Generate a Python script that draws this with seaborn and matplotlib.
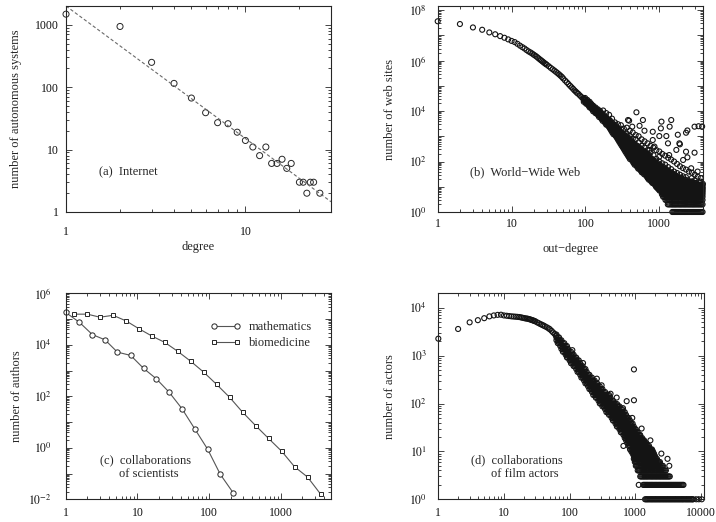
import numpy as np
import pandas as pd
import matplotlib
matplotlib.use("Agg")
import matplotlib.pyplot as plt
import seaborn as sns
from matplotlib.ticker import LogLocator, FuncFormatter, NullFormatter

# ---------------- (a) Internet ----------------
inet_degree = [1, 2, 3, 4, 5, 6, 7, 8, 9, 10, 11, 12, 13, 14, 15, 16, 17, 18,
               20, 21, 22, 23, 24, 26]
inet_count = [1480, 940, 250, 115, 67, 39, 27, 26, 19, 14, 11, 8, 11, 6, 6, 7, 5, 6,
              3, 3, 2, 3, 3, 2]
inet_fit_degree = [1, 30]
inet_fit_count = [2000, 1.46]

# ---------------- (b) World-Wide Web ----------------
# head of the distribution: one well-separated count per out-degree
www_chain_deg = list(range(1, 31)) + [32, 34, 36, 38, 40, 42, 44, 46, 48, 50,
                                      53, 56, 59, 62, 65, 68, 71, 74, 77, 80,
                                      84, 88, 92, 96]
www_chain_sites = [36000000, 28000000, 20500000, 16600000, 13000000, 11000000, 9300000,
                   8000000, 6900000, 6000000, 5400000, 4600000, 3900000, 3400000,
                   3000000, 2600000, 2300000, 2100000, 1900000, 1700000, 1550000,
                   1400000, 1250000, 1130000, 1030000, 940000, 860000, 790000, 730000,
                   680000, 590000, 510000, 450000, 400000, 355000, 316000, 282000,
                   251000, 224000, 195000, 162000, 138000, 117000, 100000, 87000,
                   76000, 66000, 59000, 52500, 48000, 41700, 36300, 32400, 29500]
# tail: degrees sampled along the axis, and for each count level the
# range of out-degrees over which that count occurs
www_grid = [95, 99, 102, 106, 110, 114, 118, 123, 127, 132, 137, 142, 148, 153, 159,
            165, 171, 178, 184, 191, 198, 206, 214, 222, 230, 239, 248, 257, 267, 277,
            287, 298, 309, 321, 333, 345, 358, 372, 386, 400, 415, 431, 447, 464, 481,
            499, 518, 538, 558, 579, 601, 623, 647, 671, 696, 722, 749, 778, 807, 837,
            869, 901, 935, 970, 1007, 1045, 1084, 1125, 1167, 1211, 1256, 1303, 1352,
            1403, 1456, 1500, 1550, 1600, 1650, 1700, 1760, 1820, 1880, 1940, 2000,
            2070, 2140, 2210, 2280, 2360, 2440, 2520, 2600, 2690, 2780, 2870, 2960,
            3060, 3160, 3270, 3380, 3490, 3610, 3730, 3850]
www_level_count = [1, 2, 3, 4, 5, 6, 7, 8, 9, 10, 12, 14, 16, 19, 22, 26, 31, 37, 44,
                   52, 62, 74, 88, 105, 125, 150, 178, 212, 252, 300, 357, 425, 506,
                   602, 716, 852, 1014, 1207, 1436, 1709, 2034, 2420, 2880, 3430, 4080,
                   4860, 5780, 6880, 8190, 9750, 11600, 13800, 16400, 19500, 23200,
                   27600, 32900]
www_level_first = [1500, 1300, 1170, 1090, 1050, 1049, 1003, 960, 923, 891, 839, 797,
                   762, 719, 685, 648, 611, 576, 544, 514, 488, 463, 441, 419, 399,
                   383, 369, 355, 341, 328, 316, 304, 292, 281, 270, 260, 250, 239,
                   228, 218, 208, 199, 188, 179, 169, 160, 151, 143, 135, 127, 120,
                   114, 108, 102, 95, 95, 95]
www_level_last = [3850, 3850, 3850, 3850, 3850, 3850, 3850, 3850, 3850, 3850, 3850,
                  3215, 2793, 2350, 2032, 1806, 1607, 1466, 1345, 1236, 1132, 1037,
                  960, 895, 834, 776, 724, 676, 630, 588, 548, 511, 477, 445, 415,
                  387, 361, 337, 315, 297, 280, 264, 249, 234, 219, 205, 193, 181,
                  170, 160, 149, 139, 130, 122, 114, 107, 100]
# scattered sites above the bulk of the tail
www_loose_deg = [174, 191, 209, 229, 251, 275, 302, 302, 331, 363, 363, 398, 398, 437,
                 437, 479, 479, 525, 525, 575, 575, 631, 631, 692, 692, 759, 759, 832,
                 832, 912, 912, 1000, 1000, 1096, 1096, 1202, 1202, 1318, 1318, 1445,
                 1445, 1585, 1585, 1738, 1738, 1905, 1905, 2089, 2089, 2291, 2291, 2512,
                 2754, 2754, 3020, 3020, 3311, 3631, 3631, 3890,
                 120, 490, 390, 600, 430, 540, 630, 815, 1070, 1450,
                 1050, 1380, 1000, 1245, 815, 2300, 3000, 3400, 3800, 1310,
                 1700, 1870, 2300, 3000, 2100, 2700, 3300, 1000, 740, 213,
                 377, 1780, 2400, 1900, 1360, 2400, 860]
www_loose_sites = [10500, 8300, 7080, 5000, 3550, 3020, 2000, 2750, 2000, 1260, 2190,
                   1050, 1660, 794, 1410, 759, 1120, 575, 1000, 417, 759, 355, 631, 282,
                   525, 224, 417, 178, 355, 126, 282, 100, 251, 85, 200, 75, 170, 60,
                   140, 50, 120, 40, 100, 35, 80, 30, 65, 26, 55, 24, 48, 40, 22, 36,
                   18, 30, 25, 16, 22, 13,
                   19000, 8900, 4150, 4400, 2400, 2600, 1660, 1510, 3800, 4400,
                   2060, 2400, 1020, 1020, 710, 1380, 2400, 2500, 2450, 525,
                   288, 525, 245, 224, 115, 54, 40, 155, 288, 4400,
                   4400, 1150, 1700, 480, 180, 146, 390]

# ---------------- (c) scientific collaborations ----------------
math_collab = [1, 1.55, 2.35, 3.53, 5.25, 8.05, 12.2, 18.3, 27.5, 41.7, 63.3, 95, 143, 217]
math_authors = [1.8e5, 7.5e4, 2.5e4, 1.56e4, 5200, 3870, 1210, 480, 147, 33.3, 5.3,
                0.89, 0.093, 0.0176]
bio_collab = [1.31, 2.0, 3.0, 4.57, 6.93, 10.5, 16.0, 24.2, 36.7, 55.7, 84.5, 127, 193,
              293, 444, 674, 1023, 1550, 2354, 3573]
bio_authors = [1.55e5, 1.55e5, 1.18e5, 1.40e5, 8.5e4, 4.2e4, 2.17e4, 1.23e4, 5500, 2260,
               850, 290, 91, 24, 7.3, 2.3, 0.74, 0.184, 0.073, 0.016]

# ---------------- (d) film actors ----------------
film_chain_deg = list(range(1, 31)) + [32, 34, 36, 38, 40, 42, 45, 48, 50, 53, 56, 59, 62]
film_chain_actors = [2260, 3600, 4950, 5500, 6050, 6600, 6900, 7100, 7150, 6900,
                     6800, 6700, 6600, 6550, 6500, 6450, 6400, 6300, 6200, 6100,
                     6000, 5950, 5900, 5800, 5700, 5600, 5500, 5400, 5300, 5200,
                     4950, 4750, 4550, 4400, 4250, 4100, 3900, 3700, 3550, 3300,
                     3050, 2850, 2600]
film_grid = [60, 63, 66, 69, 72, 75, 79, 83, 87, 91, 95, 100, 105, 110, 115, 120, 126,
             132, 138, 145, 151, 158, 166, 174, 182, 191, 200, 209, 219, 229, 240, 251,
             263, 275, 288, 302, 316, 331, 347, 363, 380, 398, 417, 437, 457, 479, 501,
             525, 550, 575, 603, 631, 661, 692, 724, 759, 794, 832, 871, 912, 950, 985,
             1020, 1055, 1090, 1130, 1160, 1190, 1230, 1275, 1320, 1365, 1410, 1460,
             1510, 1560, 1620, 1680, 1740, 1800, 1860, 1930, 2000, 2070, 2140, 2220,
             2300, 2380, 2460, 2550, 2640, 2730, 2830, 2930, 3030, 3140, 3250, 3360,
             3480, 3600, 3730, 3860, 4000, 4140, 4290, 4440, 4600, 4760, 4930, 5100,
             5280, 5430, 5660, 5860, 6070, 6280, 6500, 6730, 6970, 7210, 7460, 7600]
film_level_count = [1, 2, 3, 4, 5, 6, 7, 8, 9, 10, 11, 13, 15, 17, 19, 22, 25, 29, 33,
                    38, 44, 50, 58, 66, 76, 87, 100, 115, 132, 151, 174, 200, 229, 263,
                    302, 347, 398, 457, 525, 603, 692, 794, 912, 1047, 1202, 1380, 1585,
                    1820, 2090, 2400, 2750]
film_level_first = [1410, 1320, 1190, 1090, 1020, 985, 950, 950, 889, 858, 832, 784,
                    741, 705, 673, 635, 597, 555, 520, 484, 450, 422, 391, 362, 333,
                    308, 286, 264, 245, 229, 214, 200, 186, 174, 162, 151, 141, 132,
                    123, 114, 105, 98, 91, 85, 79, 75, 70, 66, 62, 62, 62]
film_level_last = [7600, 5430, 3400, 2930, 2640, 2400, 2200, 2000, 1950, 1900, 1800,
                   1655, 1505, 1393, 1298, 1199, 1125, 1045, 980, 920, 861, 812, 752,
                   699, 647, 585, 521, 472, 433, 399, 360, 326, 297, 271, 247, 225,
                   206, 190, 176, 163, 150, 138, 128, 117, 107, 99, 91, 84, 77, 70, 63]
film_loose_deg = [8500, 9300, 10300, 955, 955, 740, 521, 530, 307, 660, 1130,
                  110, 160, 260, 420, 650, 900, 1250, 1700, 2500, 3100, 3300]
film_loose_actors = [1, 1, 1, 515, 117, 112, 133, 97, 240, 13, 2,
                     1300, 700, 330, 160, 80, 50, 30, 17, 9, 7, 5]


def level_points(grid, counts, first, last):
    xs, ys = [], []
    for c, lo, hi in zip(counts, first, last):
        sel = [g for g in grid if lo <= g <= hi]
        xs.extend(sel)
        ys.extend([c] * len(sel))
    return xs, ys


wx, wy = level_points(www_grid, www_level_count, www_level_first, www_level_last)
web = pd.DataFrame({"degree": www_chain_deg + wx + www_loose_deg,
                    "sites": www_chain_sites + wy + www_loose_sites})
fx, fy = level_points(film_grid, film_level_count, film_level_first, film_level_last)
film = pd.DataFrame({"degree": film_chain_deg + fx + film_loose_deg,
                     "actors": film_chain_actors + fy + film_loose_actors})
inet = pd.DataFrame({"degree": inet_degree, "count": inet_count})
inet_fit = pd.DataFrame({"degree": inet_fit_degree, "count": inet_fit_count})
math_df = pd.DataFrame({"k": math_collab, "n": math_authors})
bio_df = pd.DataFrame({"k": bio_collab, "n": bio_authors})

sns.set_theme(style="ticks")
plt.rcParams["font.family"] = ["Liberation Serif", "DejaVu Serif"]
plt.rcParams["mathtext.fontset"] = "stix"

INK = "#262626"
DENSE_INK = "#141414"
LABEL_SIZE = 9
TICK_SIZE = 8.5

fig = plt.figure(figsize=(7.16, 5.22), dpi=100)
ax_a = fig.add_axes([0.0922, 0.5939, 0.3701, 0.3946])
ax_b = fig.add_axes([0.6113, 0.5939, 0.3705, 0.3946])
ax_c = fig.add_axes([0.0918, 0.0435, 0.3705, 0.3946])
ax_d = fig.add_axes([0.6122, 0.0435, 0.3705, 0.3946])

plain_fmt = FuncFormatter(lambda v, pos: f"{v:g}")


def power_fmt(step):
    def f(v, pos):
        e = int(round(np.log10(v)))
        return rf"$10^{{{e}}}$" if e % step == 0 else ""
    return FuncFormatter(f)


def style_axes(ax, xlim, ylim, xfmt, yfmt, xpad, ypad):
    ax.set_xscale("log")
    ax.set_yscale("log")
    ax.set_xlim(*xlim)
    ax.set_ylim(*ylim)
    for axis, fmt in ((ax.xaxis, xfmt), (ax.yaxis, yfmt)):
        axis.set_major_locator(LogLocator(base=10, numticks=30))
        axis.set_minor_locator(LogLocator(base=10, subs=np.arange(2, 10), numticks=30))
        axis.set_major_formatter(fmt)
        axis.set_minor_formatter(NullFormatter())
    ax.tick_params(which="both", direction="in", top=True, right=True,
                   width=0.6, color=INK, labelcolor="#111", labelsize=TICK_SIZE)
    ax.tick_params(which="major", length=4)
    ax.tick_params(which="minor", length=2)
    ax.tick_params(axis="x", which="both", pad=xpad)
    ax.tick_params(axis="y", which="both", pad=ypad)
    for s in ax.spines.values():
        s.set_visible(True)
        s.set_linewidth(0.8)
        s.set_color(INK)


def open_circles(ax, data, x, y, size, lw=0.7, color=INK):
    sns.scatterplot(data=data, x=x, y=y, ax=ax, s=size, marker="o",
                    color=color, linewidth=lw, legend=False)
    pts = ax.collections[-1]
    pts.set_facecolor("none")
    pts.set_edgecolor(color)
    pts.set_linewidth(lw)
    pts.set_clip_on(False)


# (a) Internet
ax = ax_a
ax.set_xscale("log"); ax.set_yscale("log")
sns.lineplot(data=inet_fit, x="degree", y="count", ax=ax, color="#6a6a6a",
             linewidth=0.8, linestyle=(0, (3, 2)))
open_circles(ax, inet, "degree", "count", 19)
style_axes(ax, (1, 30), (1, 2000), plain_fmt, plain_fmt, 10, 5.5)
ax.set_xlabel("degree", fontsize=LABEL_SIZE)
ax.set_ylabel("number of autonomous systems", fontsize=LABEL_SIZE)
ax.text(0.125, 0.194, "(a)  Internet", transform=ax.transAxes,
        ha="left", va="center", fontsize=LABEL_SIZE)

# (b) World-Wide Web
ax = ax_b
ax.set_xscale("log"); ax.set_yscale("log")
open_circles(ax, web, "degree", "sites", 13, lw=0.8, color=DENSE_INK)
style_axes(ax, (1, 3900), (1, 1.45e8), plain_fmt, power_fmt(2), 4, 8)
ax.set_xlabel("out\u2212degree", fontsize=LABEL_SIZE)
ax.set_ylabel("number of web sites", fontsize=LABEL_SIZE)
ax.text(0.122, 0.194, "(b)  World\u2212Wide Web", transform=ax.transAxes,
        ha="left", va="center", fontsize=LABEL_SIZE)

# (c) collaborations of scientists
ax = ax_c
ax.set_xscale("log"); ax.set_yscale("log")
sns.lineplot(data=math_df, x="k", y="n", ax=ax, color="#555555", linewidth=0.8,
             marker="o", markersize=3.8, markerfacecolor="white",
             markeredgecolor=INK, markeredgewidth=0.7, label="mathematics",
             clip_on=False)
sns.lineplot(data=bio_df, x="k", y="n", ax=ax, color="#555555", linewidth=0.8,
             marker="s", markersize=3.4, markerfacecolor="white",
             markeredgecolor=INK, markeredgewidth=0.7, label="biomedicine",
             clip_on=False)
style_axes(ax, (1, 5000), (1e-2, 1e6), plain_fmt, power_fmt(2), 5.3, 10)
ax.set_xlabel("")
ax.set_ylabel("number of authors", fontsize=LABEL_SIZE)
ax.legend(loc="upper left", bbox_to_anchor=(0.545, 0.866), frameon=False,
          numpoints=2, handlelength=2.4, handletextpad=0.7, labelspacing=0.35,
          borderpad=0, borderaxespad=0, fontsize=LABEL_SIZE)
ax.text(0.129, 0.191, "(c)  collaborations", transform=ax.transAxes,
        ha="left", va="center", fontsize=LABEL_SIZE)
ax.text(0.202, 0.123, "of scientists", transform=ax.transAxes,
        ha="left", va="center", fontsize=LABEL_SIZE)

# (d) collaborations of film actors
ax = ax_d
ax.set_xscale("log"); ax.set_yscale("log")
open_circles(ax, film, "degree", "actors", 13, lw=0.8, color=DENSE_INK)
style_axes(ax, (1, 1.1e4), (1, 2e4), plain_fmt, power_fmt(1), 5.3, 8)
ax.set_xlabel("")
ax.set_ylabel("number of actors", fontsize=LABEL_SIZE)
ax.text(0.123, 0.191, "(d)  collaborations", transform=ax.transAxes,
        ha="left", va="center", fontsize=LABEL_SIZE)
ax.text(0.2, 0.123, "of film actors", transform=ax.transAxes,
        ha="left", va="center", fontsize=LABEL_SIZE)

ax_a.yaxis.set_label_coords(-0.165, 0.5)
ax_c.yaxis.set_label_coords(-0.162, 0.5)
ax_b.yaxis.set_label_coords(-0.159, 0.5)
ax_d.yaxis.set_label_coords(-0.161, 0.5)
ax_a.xaxis.set_label_coords(0.5, -0.141)
ax_b.xaxis.set_label_coords(0.5, -0.149)

fig.savefig("out.png", dpi=100)
